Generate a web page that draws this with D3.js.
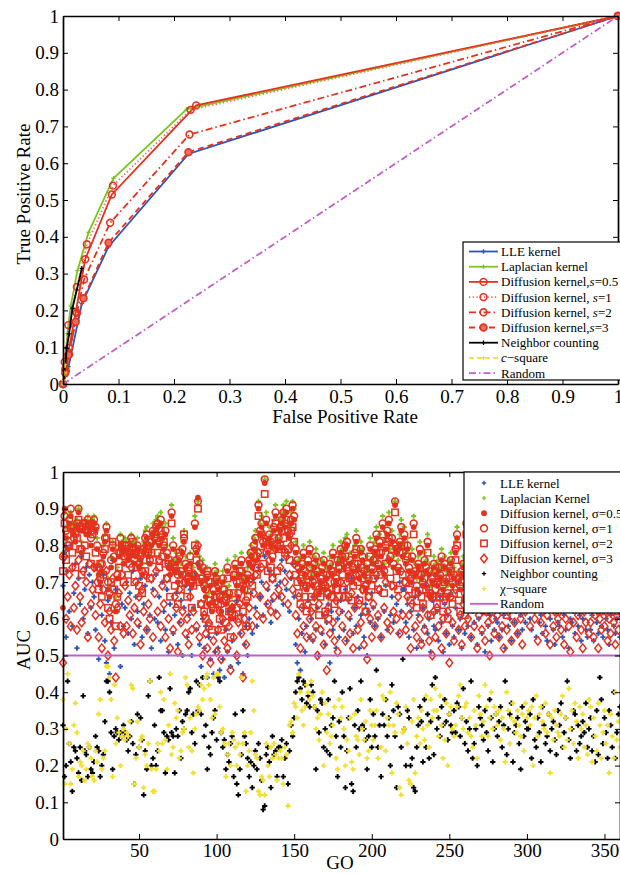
<!DOCTYPE html>
<html><head><meta charset="utf-8">
<script src="https://cdn.jsdelivr.net/npm/d3@7"></script>
<style>body{margin:0;background:#fff}svg{display:block}</style>
</head><body><svg width="620" height="874"></svg>
<script>
// ---------------- TOP PANEL DATA (ROC) ----------------
const rocTicks = [0,0.1,0.2,0.3,0.4,0.5,0.6,0.7,0.8,0.9,1];
const rocTickLabels = ["0","0.1","0.2","0.3","0.4","0.5","0.6","0.7","0.8","0.9","1"];
const lleFpr = [0,0.004,0.010,0.034,0.082,0.226,1];
const lleTpr = [0,0.02,0.047,0.219,0.373,0.625,1];
const lapFpr = [0,0.004,0.008,0.014,0.026,0.046,0.091,0.223,1];
const lapTpr = [0,0.05,0.137,0.212,0.308,0.412,0.559,0.747,1];
const dif05Fpr = [0,0.004,0.011,0.023,0.040,0.088,0.240,1];
const dif05Tpr = [0,0.040,0.098,0.196,0.339,0.515,0.757,1];
const dif1Fpr = [0,0.003,0.0096,0.025,0.043,0.090,0.230,1];
const dif1Tpr = [0,0.060,0.160,0.264,0.380,0.539,0.745,1];
const dif2Fpr = [0,0.005,0.011,0.025,0.038,0.085,0.228,1];
const dif2Tpr = [0,0.035,0.080,0.193,0.284,0.438,0.678,1];
const dif3Fpr = [0,0.004,0.0096,0.023,0.037,0.082,0.226,1];
const dif3Tpr = [0,0.030,0.079,0.169,0.233,0.384,0.630,1];
const nbFpr = [0,0.004,0.0067,0.011,0.017,0.034];
const nbTpr = [0,0.050,0.097,0.136,0.206,0.314];
const chiFpr = [0,0.0006,0.0024,0.0036];
const chiTpr = [0,0.010,0.031,0.052];
const randFpr = [0,1];
const randTpr = [0,1];
const rocLegend = ["LLE kernel","Laplacian kernel","Diffusion kernel,<i>s</i>=0.5","Diffusion kernel, <i>s</i>=1","Diffusion kernel, <i>s</i>=2","Diffusion kernel,<i>s</i>=3","Neighbor counting","<i>c</i>\u2212square","Random"];

// ---------------- BOTTOM PANEL DATA (AUC per GO term) ----------------
const goXTicks = [50,100,150,200,250,300,350];
const goXTickLabels = ["50","100","150","200","250","300","350"];
const aucYTicks = [0,0.1,0.2,0.3,0.4,0.5,0.6,0.7,0.8,0.9,1];
const aucYTickLabels = ["0","0.1","0.2","0.3","0.4","0.5","0.6","0.7","0.8","0.9","1"];
const randomAUC = 0.5;
const lleAUC = [
.69,.78,.55,.73,.62,.80,.58,.67,.75,.52,.71,.64,.77,.60,.68,.74,.56,.72,.63,.70,
.66,.57,.74,.49,.69,.61,.72,.54,.48,.65,.45,.59,.76,.52,.68,.62,.71,.47,.64,.58,
.63,.70,.56,.67,.60,.73,.53,.66,.62,.58,.71,.55,.64,.69,.57,.75,.61,.52,.68,.60,
.72,.59,.66,.54,.70,.62,.57,.68,.51,.64,.74,.56,.61,.67,.53,.59,.65,.50,.63,.69,
.55,.61,.68,.50,.63,.72,.57,.75,.53,.47,.60,.52,.58,.44,.55,.49,.62,.45,.51,.56,
.52,.46,.59,.49,.44,.57,.51,.62,.47,.54,.60,.50,.65,.48,.56,.61,.45,.53,.58,.50,
.60,.67,.56,.71,.63,.58,.74,.66,.70,.61,.77,.64,.68,.73,.59,.65,.72,.62,.69,.66,
.70,.76,.64,.73,.68,.78,.62,.71,.75,.66,.53,.48,.60,.46,.56,.63,.51,.58,.65,.55,
.60,.54,.66,.57,.63,.50,.68,.56,.61,.53,.59,.64,.48,.62,.57,.67,.52,.60,.55,.65,
.62,.57,.68,.54,.65,.60,.71,.56,.63,.58,.66,.52,.61,.69,.55,.64,.50,.62,.59,.67,
.63,.58,.71,.60,.67,.55,.74,.62,.69,.57,.76,.61,.66,.59,.79,.64,.56,.70,.62,.68,
.68,.59,.64,.55,.62,.70,.57,.66,.52,.61,.67,.54,.63,.58,.69,.56,.60,.51,.65,.58,
.57,.62,.54,.66,.59,.51,.64,.56,.61,.53,.67,.58,.55,.63,.70,.57,.60,.52,.65,.56,
.70,.58,.65,.55,.62,.59,.67,.53,.60,.64,.56,.62,.51,.66,.58,.61,.54,.63,.57,.60,
.59,.55,.63,.57,.61,.52,.65,.58,.60,.54,.66,.59,.62,.56,.68,.61,.57,.64,.59,.67,
.65,.60,.57,.68,.62,.55,.64,.59,.61,.56,.67,.58,.54,.63,.60,.66,.57,.53,.62,.59,
.58,.64,.55,.61,.57,.63,.52,.60,.59,.62,.56,.65,.58,.61,.54,.60,.63,.57,.55,.62,
.57,.61,.54,.63,.59,.56,.62,.58,.55,.64,.60,.57,.53,.61,.65,.58,.56,.60,.62,.55];
const lapAUC = [
.78,.89,.85,.82,.88,.89,.86,.85,.83,.87,.90,.86,.81,.86,.87,.85,.88,.86,.83,.87,
.88,.86,.82,.75,.73,.76,.80,.83,.86,.71,.69,.77,.81,.79,.66,.74,.80,.83,.81,.78,
.82,.81,.79,.80,.83,.81,.78,.80,.82,.77,.79,.75,.81,.84,.85,.80,.78,.83,.86,.84,
.87,.88,.83,.89,.85,.82,.86,.80,.77,.75,.91,.82,.76,.78,.73,.79,.75,.81,.84,.77,
.73,.75,.78,.72,.74,.88,.81,.92,.77,.73,.76,.71,.69,.74,.67,.72,.65,.70,.75,.73,
.71,.68,.65,.73,.70,.67,.76,.69,.63,.66,.74,.77,.72,.69,.75,.78,.71,.73,.67,.74,
.78,.80,.77,.82,.84,.79,.92,.86,.88,.83,.98,.89,.81,.85,.83,.79,.87,.91,.82,.84,
.87,.89,.91,.88,.92,.86,.85,.89,.92,.90,.81,.78,.76,.73,.77,.80,.75,.71,.78,.81,
.74,.72,.77,.79,.75,.70,.73,.76,.78,.71,.74,.69,.77,.75,.80,.72,.73,.78,.76,.81,
.79,.77,.82,.83,.75,.78,.73,.76,.80,.84,.77,.74,.81,.79,.75,.71,.77,.73,.82,.76,
.78,.81,.85,.77,.83,.80,.88,.75,.82,.86,.89,.79,.84,.77,.92,.81,.76,.83,.87,.80,
.85,.78,.82,.76,.73,.79,.88,.75,.71,.77,.81,.74,.72,.78,.76,.83,.75,.69,.73,.77,
.75,.72,.76,.74,.79,.71,.77,.73,.69,.76,.78,.72,.74,.81,.85,.73,.71,.75,.77,.69,
.88,.83,.79,.75,.73,.77,.81,.74,.72,.78,.80,.75,.71,.77,.73,.76,.79,.74,.72,.77,
.76,.73,.71,.75,.78,.72,.69,.74,.76,.73,.79,.77,.81,.75,.83,.79,.76,.80,.78,.82,
.83,.79,.76,.81,.85,.77,.74,.80,.78,.75,.82,.76,.73,.79,.77,.81,.75,.71,.77,.74,
.75,.79,.73,.77,.71,.76,.74,.78,.72,.75,.77,.73,.80,.76,.71,.74,.78,.75,.72,.76,
.74,.71,.76,.73,.78,.75,.70,.73,.77,.74,.72,.76,.71,.75,.79,.73,.70,.75,.77,.72];
const dif05AUC = [
.63,.90,.82,.79,.86,.88,.84,.83,.81,.85,.89,.84,.78,.84,.85,.83,.86,.84,.80,.85,
.86,.84,.79,.72,.70,.73,.77,.81,.84,.68,.66,.74,.79,.76,.62,.71,.77,.80,.78,.75,
.79,.78,.76,.77,.80,.78,.75,.77,.79,.74,.76,.72,.78,.80,.82,.77,.75,.80,.83,.81,
.84,.85,.80,.86,.82,.79,.83,.77,.74,.72,.88,.79,.73,.75,.70,.76,.72,.78,.81,.74,
.70,.72,.75,.69,.71,.85,.78,.93,.74,.70,.73,.68,.66,.71,.64,.69,.62,.67,.72,.70,
.68,.65,.62,.70,.67,.64,.73,.66,.60,.63,.71,.74,.69,.66,.72,.75,.68,.70,.64,.71,
.75,.77,.74,.79,.81,.76,.90,.83,.85,.80,.97,.86,.78,.82,.80,.76,.84,.88,.79,.81,
.84,.86,.88,.85,.89,.83,.82,.86,.90,.87,.78,.75,.73,.70,.74,.77,.72,.68,.75,.78,
.71,.69,.74,.76,.72,.67,.70,.73,.75,.68,.71,.66,.74,.72,.77,.69,.70,.75,.73,.78,
.76,.74,.79,.80,.72,.75,.70,.73,.77,.81,.74,.71,.78,.76,.72,.68,.74,.70,.79,.73,
.75,.78,.82,.74,.80,.77,.85,.72,.79,.83,.86,.76,.81,.74,.91,.78,.73,.80,.84,.77,
.82,.75,.79,.73,.70,.76,.85,.72,.68,.74,.78,.71,.69,.75,.73,.80,.72,.66,.70,.74,
.72,.69,.73,.71,.76,.68,.74,.70,.66,.73,.75,.69,.71,.78,.82,.70,.68,.72,.74,.66,
.85,.80,.76,.72,.70,.74,.78,.71,.69,.75,.77,.72,.68,.74,.70,.73,.76,.71,.69,.74,
.73,.70,.68,.72,.75,.69,.66,.71,.73,.70,.76,.74,.78,.72,.80,.76,.73,.77,.75,.79,
.80,.76,.73,.78,.82,.74,.71,.77,.75,.72,.79,.73,.70,.76,.74,.78,.72,.68,.74,.71,
.72,.76,.70,.74,.68,.73,.71,.75,.69,.72,.74,.70,.77,.73,.68,.71,.75,.72,.69,.73,
.71,.68,.73,.70,.75,.72,.67,.70,.74,.71,.69,.73,.68,.72,.76,.70,.67,.72,.74,.69];
const dif1AUC = [
.77,.88,.84,.80,.87,.90,.85,.82,.83,.86,.90,.85,.79,.85,.86,.84,.87,.85,.82,.86,
.87,.85,.80,.74,.71,.75,.78,.82,.85,.70,.67,.76,.80,.77,.64,.72,.78,.82,.79,.77,
.80,.79,.77,.78,.82,.79,.76,.78,.80,.75,.77,.73,.79,.82,.83,.78,.76,.81,.84,.82,
.85,.86,.81,.87,.83,.80,.84,.78,.75,.74,.89,.80,.74,.76,.72,.77,.73,.79,.82,.75,
.71,.73,.77,.70,.72,.86,.79,.92,.75,.71,.74,.69,.68,.72,.65,.70,.64,.68,.73,.71,
.69,.66,.64,.71,.68,.65,.74,.67,.62,.64,.72,.75,.70,.67,.73,.76,.69,.71,.65,.72,
.76,.78,.75,.80,.82,.77,.91,.84,.86,.81,.98,.87,.79,.83,.81,.77,.85,.89,.80,.82,
.85,.87,.89,.86,.90,.84,.83,.87,.91,.88,.79,.76,.74,.71,.75,.78,.73,.69,.76,.79,
.72,.70,.75,.77,.73,.68,.71,.74,.76,.69,.72,.67,.75,.73,.78,.70,.71,.76,.74,.79,
.77,.75,.80,.81,.73,.76,.71,.74,.78,.82,.75,.72,.79,.77,.73,.69,.75,.71,.80,.74,
.76,.79,.83,.75,.81,.78,.86,.73,.80,.84,.87,.77,.82,.75,.92,.79,.74,.81,.85,.78,
.83,.76,.80,.74,.71,.77,.86,.73,.69,.75,.79,.72,.70,.76,.74,.81,.73,.67,.71,.75,
.73,.70,.74,.72,.77,.69,.75,.71,.67,.74,.76,.70,.72,.79,.83,.71,.69,.73,.75,.67,
.86,.81,.77,.73,.71,.75,.79,.72,.70,.76,.78,.73,.69,.75,.71,.74,.77,.72,.70,.75,
.74,.71,.69,.73,.76,.70,.67,.72,.74,.71,.77,.75,.79,.73,.81,.77,.74,.78,.76,.80,
.81,.77,.74,.79,.83,.75,.72,.78,.76,.73,.80,.74,.71,.77,.75,.79,.73,.69,.75,.72,
.73,.77,.71,.75,.69,.74,.72,.76,.70,.73,.75,.71,.78,.74,.69,.72,.76,.73,.70,.74,
.72,.69,.74,.71,.76,.73,.68,.71,.75,.72,.70,.74,.69,.73,.77,.71,.68,.73,.75,.70];
const dif2AUC = [
.73,.86,.76,.83,.80,.85,.78,.85,.74,.82,.87,.79,.72,.86,.80,.77,.84,.86,.75,.83,
.84,.78,.74,.68,.75,.66,.72,.79,.82,.63,.60,.70,.81,.68,.58,.66,.74,.78,.80,.70,
.77,.80,.72,.75,.78,.81,.70,.79,.74,.69,.78,.67,.76,.73,.80,.79,.71,.78,.76,.83,
.82,.78,.74,.84,.77,.81,.75,.71,.76,.66,.86,.73,.69,.73,.64,.78,.68,.72,.83,.70,
.66,.74,.70,.63,.69,.80,.76,.90,.70,.64,.71,.62,.60,.73,.58,.65,.57,.63,.70,.66,
.64,.60,.57,.68,.65,.59,.71,.62,.55,.61,.67,.72,.63,.60,.70,.73,.62,.68,.58,.66,
.71,.75,.69,.77,.74,.72,.88,.78,.83,.75,.94,.81,.73,.80,.74,.71,.82,.86,.73,.79,
.80,.84,.82,.78,.87,.79,.76,.84,.85,.81,.72,.70,.67,.64,.72,.69,.66,.62,.70,.74,
.66,.63,.72,.69,.67,.61,.66,.71,.70,.62,.67,.60,.72,.66,.73,.64,.68,.70,.66,.76,
.72,.68,.77,.74,.66,.71,.65,.69,.75,.79,.70,.65,.74,.71,.68,.62,.72,.66,.77,.69,
.71,.76,.78,.68,.78,.72,.83,.67,.75,.81,.82,.71,.79,.69,.89,.73,.68,.78,.80,.72,
.80,.70,.77,.68,.65,.72,.83,.67,.63,.72,.74,.66,.64,.71,.68,.78,.67,.61,.66,.70,
.68,.64,.71,.66,.74,.62,.70,.66,.60,.71,.73,.64,.67,.76,.80,.65,.62,.70,.72,.61,
.83,.75,.74,.67,.65,.72,.76,.66,.64,.73,.75,.67,.62,.72,.65,.69,.74,.66,.63,.72,
.69,.66,.63,.70,.73,.64,.61,.69,.71,.66,.74,.70,.76,.68,.78,.71,.69,.75,.70,.77,
.78,.71,.69,.76,.80,.70,.66,.75,.71,.68,.77,.69,.65,.74,.70,.76,.67,.63,.72,.66,
.68,.74,.65,.72,.63,.71,.66,.73,.64,.70,.72,.65,.75,.69,.63,.67,.73,.68,.64,.71,
.67,.63,.71,.65,.73,.68,.62,.66,.72,.67,.64,.71,.63,.69,.74,.66,.62,.70,.72,.64];
const dif3AUC = [
.48,.77,.60,.66,.72,.58,.74,.63,.69,.57,.76,.66,.59,.73,.62,.70,.55,.75,.64,.68,
.74,.61,.70,.55,.64,.52,.68,.59,.73,.50,.62,.57,.71,.54,.44,.63,.67,.58,.72,.56,
.69,.58,.65,.61,.74,.56,.63,.70,.59,.66,.53,.68,.62,.72,.57,.64,.60,.71,.55,.67,
.73,.62,.76,.58,.69,.64,.55,.71,.60,.52,.75,.57,.66,.63,.51,.68,.59,.62,.70,.56,
.60,.53,.66,.57,.62,.72,.58,.80,.55,.64,.50,.61,.56,.52,.59,.48,.63,.54,.66,.51,
.57,.62,.49,.60,.54,.66,.52,.58,.46,.63,.55,.61,.50,.59,.64,.56,.44,.60,.53,.58,
.63,.70,.58,.67,.72,.61,.78,.66,.74,.60,.82,.69,.64,.76,.62,.71,.66,.79,.61,.68,
.74,.66,.79,.70,.77,.64,.72,.80,.68,.75,.61,.56,.66,.52,.63,.58,.69,.55,.64,.60,
.62,.55,.66,.58,.50,.64,.57,.69,.53,.61,.46,.63,.56,.68,.59,.54,.65,.51,.62,.70,
.58,.66,.54,.70,.61,.56,.67,.52,.63,.72,.57,.64,.59,.68,.53,.62,.49,.66,.60,.55,
.64,.58,.72,.61,.68,.55,.74,.63,.70,.59,.76,.57,.69,.62,.80,.60,.66,.56,.73,.61,
.70,.57,.66,.61,.52,.64,.72,.58,.55,.67,.60,.53,.63,.57,.69,.61,.54,.66,.50,.62,
.55,.63,.58,.67,.52,.60,.65,.56,.62,.48,.66,.59,.54,.68,.71,.57,.61,.53,.64,.58,
.72,.60,.66,.55,.63,.58,.69,.52,.61,.65,.57,.67,.54,.62,.59,.50,.64,.60,.56,.66,
.61,.55,.64,.58,.52,.66,.57,.62,.68,.54,.63,.59,.70,.56,.65,.60,.53,.67,.62,.69,
.68,.58,.63,.71,.60,.66,.54,.64,.59,.62,.70,.56,.61,.67,.53,.65,.58,.62,.55,.60,
.62,.57,.66,.53,.60,.64,.58,.51,.63,.59,.67,.55,.61,.65,.57,.52,.62,.59,.64,.56,
.59,.63,.55,.61,.66,.52,.60,.57,.64,.58,.62,.54,.60,.56,.67,.59,.53,.61,.57,.63];
const nbAUC = [
.31,.17,.20,.43,.26,.21,.13,.25,.24,.22,.18,.25,.16,.39,.24,.23,.17,.25,.19,.18,
.21,.28,.25,.24,.17,.20,.23,.32,.43,.43,.40,.29,.19,.28,.30,.29,.27,.29,.28,.31,
.29,.27,.24,.28,.32,.26,.15,.23,.34,.25,.33,.27,.12,.24,.19,.39,.43,.20,.22,.31,
.20,.24,.44,.35,.35,.29,.18,.28,.27,.41,.29,.28,.18,.30,.28,.35,.22,.32,.30,.34,
.35,.40,.41,.29,.34,.26,.43,.35,.42,.34,.44,.28,.31,.19,.25,.23,.29,.33,.35,.27,
.44,.43,.29,.25,.27,.19,.23,.21,.26,.28,.17,.34,.15,.12,.19,.23,.35,.28,.26,.22,
.17,.21,.14,.20,.24,.19,.26,.22,.16,.08,.09,.23,.25,.21,.14,.28,.23,.24,.17,.25,
.25,.27,.17,.22,.26,.15,.24,.31,.28,.33,.40,.43,.44,.41,.38,.43,.42,.37,.39,.36,
.42,.40,.36,.19,.35,.29,.38,.37,.25,.30,.24,.38,.23,.31,.33,.43,.28,.17,.32,.25,
.40,.28,.14,.24,.33,.41,.15,.13,.31,.25,.35,.30,.43,.31,.30,.27,.19,.28,.38,.25,
.34,.28,.46,.25,.31,.17,.34,.31,.38,.28,.33,.20,.42,.35,.28,.14,.36,.34,.25,.49,
.30,.20,.35,.33,.20,.22,.14,.13,.25,.31,.36,.32,.21,.38,.25,.34,.22,.32,.42,.23,
.44,.30,.33,.28,.36,.31,.38,.32,.27,.34,.31,.29,.35,.29,.37,.36,.28,.33,.41,.26,
.32,.24,.30,.43,.22,.26,.30,.20,.36,.33,.31,.27,.35,.29,.24,.38,.33,.21,.30,.34,
.28,.32,.36,.25,.31,.43,.23,.30,.34,.37,.21,.29,.31,.33,.26,.19,.36,.28,.32,.30,
.30,.34,.22,.38,.27,.25,.33,.29,.21,.36,.31,.26,.28,.34,.24,.30,.32,.27,.23,.35,
.31,.37,.25,.29,.33,.43,.27,.22,.30,.35,.34,.24,.31,.26,.28,.32,.29,.37,.25,.30,
.33,.24,.28,.21,.35,.23,.44,.38,.26,.33,.29,.22,.35,.31,.25,.40,.22,.29,.34,.36];
const chiAUC = [
.38,.15,.30,.45,.26,.15,.19,.31,.37,.29,.17,.21,.20,.24,.16,.19,.26,.25,.22,.17,
.16,.24,.21,.34,.38,.19,.22,.24,.47,.47,.44,.38,.17,.42,.26,.33,.29,.20,.28,.30,
.27,.29,.28,.32,.42,.41,.15,.22,.32,.25,.27,.28,.14,.23,.20,.26,.43,.19,.13,.13,
.19,.26,.24,.40,.26,.38,.27,.19,.31,.45,.23,.25,.37,.33,.35,.22,.24,.29,.30,.44,
.42,.25,.33,.24,.18,.30,.34,.36,.35,.42,.38,.41,.44,.45,.42,.38,.33,.44,.34,.45,
.45,.36,.29,.30,.26,.17,.23,.26,.20,.29,.27,.25,.20,.26,.23,.44,.26,.29,.13,.20,
.24,.29,.43,.35,.23,.22,.13,.12,.17,.16,.12,.26,.20,.17,.25,.22,.26,.23,.16,.22,
.24,.22,.15,.25,.23,.09,.31,.32,.29,.37,.36,.33,.45,.40,.35,.31,.36,.42,.40,.38,
.43,.39,.36,.30,.33,.27,.34,.40,.20,.37,.29,.34,.26,.28,.31,.36,.22,.19,.38,.33,
.36,.30,.20,.27,.24,.33,.21,.19,.34,.28,.27,.23,.38,.30,.27,.32,.22,.24,.35,.31,
.27,.31,.35,.22,.42,.25,.39,.38,.24,.33,.31,.40,.18,.31,.29,.37,.34,.14,.12,.29,
.30,.36,.26,.16,.15,.32,.38,.18,.28,.33,.26,.35,.30,.27,.39,.31,.25,.38,.33,.35,
.41,.35,.28,.39,.31,.22,.27,.37,.20,.34,.36,.30,.28,.31,.36,.39,.42,.33,.30,.36,
.37,.29,.33,.28,.25,.35,.31,.22,.39,.34,.28,.32,.42,.36,.28,.33,.40,.30,.36,.34,
.31,.35,.27,.33,.30,.21,.40,.35,.26,.33,.37,.32,.29,.35,.31,.28,.34,.24,.37,.33,
.35,.31,.36,.20,.33,.39,.28,.34,.36,.32,.30,.37,.29,.34,.18,.33,.27,.35,.31,.29,
.28,.34,.39,.25,.33,.27,.41,.30,.35,.26,.37,.32,.22,.36,.30,.34,.25,.31,.23,.38,
.36,.21,.33,.28,.24,.37,.31,.22,.29,.35,.26,.31,.18,.34,.28,.22,.40,.27,.32,.25];
const aucLegend = ["LLE kernel","Laplacian Kernel","Diffusion kernel, \u03c3=0.5","Diffusion kernel, \u03c3=1","Diffusion kernel, \u03c3=2","Diffusion kernel, \u03c3=3","Neighbor counting","\u03c7\u2212square","Random"];

// ---------------- RENDERING ----------------
const FONT = '"Liberation Serif","Times New Roman",Times,serif';
const BLUE="#2f55b8", GREEN="#7cc51f", RED="#e4321f", BLACK="#000000", YELLOW="#f2df2e", PURPLE="#c45ccc";
const svg = d3.select("svg");

function marker(g, shape, cx, cy, color){
  if (shape==="plus" || shape==="splus"){
    const a = shape==="plus"?2.6:2.2, w = shape==="plus"?1.9:1.3;
    g.append("path").attr("d",`M${cx-a},${cy}H${cx+a}M${cx},${cy-a}V${cy+a}`)
     .attr("stroke",color).attr("stroke-width",w).attr("fill","none");
  } else if (shape==="dot"){
    g.append("circle").attr("cx",cx).attr("cy",cy).attr("r",2.9).attr("fill",color);
  } else if (shape==="circle"){
    g.append("circle").attr("cx",cx).attr("cy",cy).attr("r",3.4).attr("fill","none").attr("stroke",color).attr("stroke-width",1.6);
  } else if (shape==="fcircle"){
    g.append("circle").attr("cx",cx).attr("cy",cy).attr("r",3.4).attr("fill","#ef6b5a").attr("stroke",color).attr("stroke-width",1.6);
  } else if (shape==="square"){
    g.append("rect").attr("x",cx-3.2).attr("y",cy-3.2).attr("width",6.4).attr("height",6.4).attr("fill","none").attr("stroke",color).attr("stroke-width",1.5);
  } else if (shape==="diamond"){
    g.append("path").attr("d",`M${cx},${cy-4.3}L${cx+3.4},${cy}L${cx},${cy+4.3}L${cx-3.4},${cy}Z`).attr("fill","none").attr("stroke",color).attr("stroke-width",1.5);
  }
}

function richText(sel, str){
  const parts = str.split(/(<i>.*?<\/i>)/).filter(s=>s.length);
  parts.forEach(p=>{
    const m = p.match(/^<i>(.*)<\/i>$/);
    const t = sel.append("tspan").text(m?m[1]:p);
    if (m) t.attr("font-style","italic");
  });
}

function drawAxes(x, y, xTicks, xLabels, yTicks, yLabels, xPad){
  const [x0,x1]=x.range(), [y0,y1]=y.range();
  const g = svg.append("g");
  g.append("g").attr("transform",`translate(0,${y0})`)
   .call(d3.axisBottom(x).tickValues(xTicks).tickFormat((d,i)=>xLabels[i]).tickSizeInner(-5).tickSizeOuter(0).tickPadding(xPad));
  g.append("g").attr("transform",`translate(0,${y1})`)
   .call(d3.axisTop(x).tickValues(xTicks).tickFormat("").tickSizeInner(-5).tickSizeOuter(0));
  g.append("g").attr("transform",`translate(${x0},0)`)
   .call(d3.axisLeft(y).tickValues(yTicks).tickFormat((d,i)=>yLabels[i]).tickSizeInner(-5).tickSizeOuter(0).tickPadding(4));
  g.append("g").attr("transform",`translate(${x1},0)`)
   .call(d3.axisRight(y).tickValues(yTicks).tickFormat("").tickSizeInner(-5).tickSizeOuter(0));
  g.selectAll(".domain").attr("stroke","#000").attr("stroke-width",1.7);
  g.selectAll(".tick line").attr("stroke","#000").attr("stroke-width",1);
  g.selectAll("text").attr("font-family",FONT).attr("font-size",19).attr("fill","#000");
}

// ===== TOP: ROC =====
const xR = d3.scaleLinear().domain([0,1]).range([63,618]);
const yR = d3.scaleLinear().domain([0,1]).range([384,16]);
const rocSeries = [
  {fpr:lleFpr, tpr:lleTpr, color:BLUE, dash:null, mk:"splus"},
  {fpr:lapFpr, tpr:lapTpr, color:GREEN, dash:null, mk:"splus"},
  {fpr:dif05Fpr, tpr:dif05Tpr, color:RED, dash:null, mk:"circle"},
  {fpr:dif1Fpr, tpr:dif1Tpr, color:"#ee6a58", dash:"1.3,2.4", mk:"circle"},
  {fpr:dif2Fpr, tpr:dif2Tpr, color:RED, dash:"7,3,1.5,3", mk:"circle"},
  {fpr:dif3Fpr, tpr:dif3Tpr, color:RED, dash:"6,4", mk:"fcircle"},
  {fpr:nbFpr, tpr:nbTpr, color:BLACK, dash:null, mk:"splus"},
  {fpr:chiFpr, tpr:chiTpr, color:YELLOW, dash:"5,3", mk:"splus"},
  {fpr:randFpr, tpr:randTpr, color:PURPLE, dash:"7,3,1.5,3", mk:null}
];
const rocG = svg.append("g");
rocSeries.forEach(s=>{
  const pts = s.fpr.map((f,i)=>[f,s.tpr[i]]);
  rocG.append("path").attr("d", d3.line().x(d=>xR(d[0])).y(d=>yR(d[1]))(pts))
    .attr("fill","none").attr("stroke",s.color).attr("stroke-width",1.8)
    .attr("stroke-dasharray",s.dash);
  if (s.mk){ const mg=rocG.append("g"); pts.forEach(d=>marker(mg, s.mk, xR(d[0]), yR(d[1]), s.color==="#ee6a58"?RED:s.color)); }
});
drawAxes(xR, yR, rocTicks, rocTickLabels, rocTicks, rocTickLabels, 6);
svg.append("text").attr("x",345).attr("y",423).attr("text-anchor","middle")
  .attr("font-family",FONT).attr("font-size",19).text("False Positive Rate");
svg.append("text").attr("transform","translate(30,194) rotate(-90)").attr("text-anchor","middle")
  .attr("font-family",FONT).attr("font-size",19).text("True Positive Rate");

// ROC legend
const lg1 = svg.append("g");
lg1.append("rect").attr("x",463).attr("y",242).attr("width",170).attr("height",138)
  .attr("fill","#fff").attr("stroke","#000").attr("stroke-width",1.2);
rocSeries.forEach((s,i)=>{
  const yy = 251.5 + i*15.2;
  lg1.append("line").attr("x1",469).attr("x2",498).attr("y1",yy).attr("y2",yy)
    .attr("stroke",s.color).attr("stroke-width",1.8).attr("stroke-dasharray",s.dash);
  if (s.mk) marker(lg1, s.mk, 483.5, yy, s.color==="#ee6a58"?RED:s.color);
  const t = lg1.append("text").attr("x",501).attr("y",yy).attr("dy","0.35em")
    .attr("font-family",FONT).attr("font-size",13).attr("fill","#000");
  richText(t, rocLegend[i]);
});

// ===== BOTTOM: AUC scatter =====
const goIndex = d3.range(1, lleAUC.length+1);
const xG = d3.scaleLinear().domain([1,360]).range([63,620]);
const yA = d3.scaleLinear().domain([0,1]).range([839,472]);
const aucSeries = [
  {vals:lleAUC, color:BLUE, mk:"plus"},
  {vals:lapAUC, color:GREEN, mk:"plus"},
  {vals:dif05AUC, color:RED, mk:"dot"},
  {vals:dif1AUC, color:RED, mk:"circle"},
  {vals:dif2AUC, color:RED, mk:"square"},
  {vals:dif3AUC, color:RED, mk:"diamond"},
  {vals:nbAUC, color:BLACK, mk:"plus"},
  {vals:chiAUC, color:YELLOW, mk:"plus"}
];
aucSeries.forEach(s=>{
  const g = svg.append("g");
  s.vals.forEach((v,i)=>marker(g, s.mk, xG(goIndex[i]), yA(v), s.color));
});
svg.append("line").attr("x1",xG(1)).attr("x2",xG(360)).attr("y1",yA(randomAUC)).attr("y2",yA(randomAUC))
  .attr("stroke",PURPLE).attr("stroke-width",1.8);
drawAxes(xG, yA, goXTicks, goXTickLabels, aucYTicks, aucYTickLabels, 5);
svg.append("text").attr("x",340).attr("y",869).attr("text-anchor","middle")
  .attr("font-family",FONT).attr("font-size",19).text("GO");
svg.append("text").attr("transform","translate(30,650) rotate(-90)").attr("text-anchor","middle")
  .attr("font-family",FONT).attr("font-size",19).text("AUC");

// AUC legend
const lg2 = svg.append("g");
lg2.append("rect").attr("x",464).attr("y",472).attr("width",170).attr("height",141)
  .attr("fill","#fff").attr("stroke","#000").attr("stroke-width",1.2);
const legMk = aucSeries.map(s=>({mk:s.mk==="plus"?"splus":s.mk, color:s.color}));
aucLegend.forEach((lab,i)=>{
  const yy = 483 + i*15.1;
  if (i < legMk.length) marker(lg2, legMk[i].mk, 484, yy, legMk[i].color);
  else lg2.append("line").attr("x1",470).attr("x2",498).attr("y1",yy).attr("y2",yy).attr("stroke",PURPLE).attr("stroke-width",1.8);
  lg2.append("text").attr("x",500).attr("y",yy).attr("dy","0.35em")
    .attr("font-family",FONT).attr("font-size",13).attr("fill","#000").text(lab);
});
</script>
</body></html>
